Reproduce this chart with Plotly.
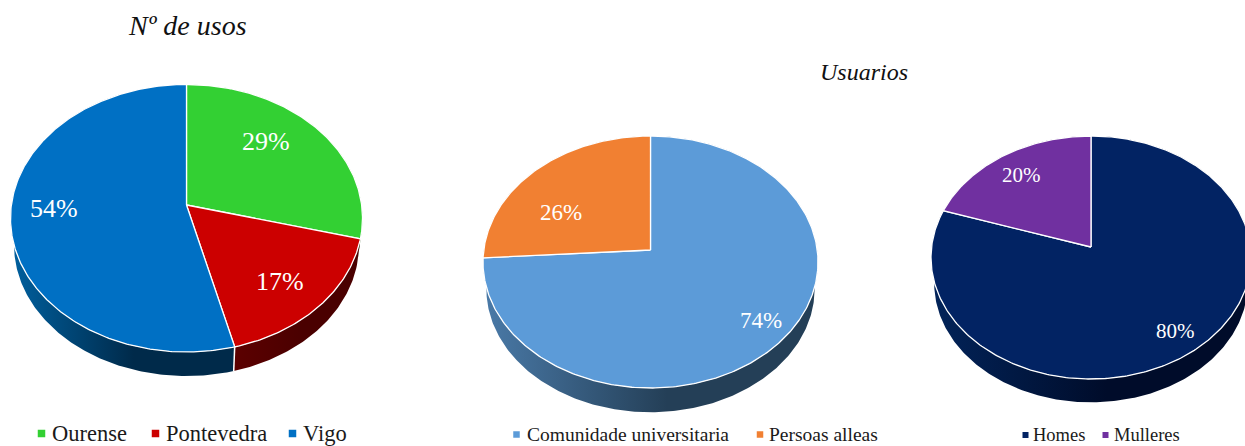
import numpy as np
import plotly.graph_objects as go

# ---- data ----
uses_labels = ["Ourense", "Pontevedra", "Vigo"]
uses_values = [29, 17, 54]
uses_colors = ["#33D033", "#CC0000", "#0070C4"]
uses_rims = [("#1c7a1c", "#145c14"), ("#5c0000", "#4a0000"), ("#00609f", "#002a4a")]

audience_labels = ["Comunidade universitaria", "Persoas alleas"]
audience_values = [74, 26]
audience_colors = ["#5C9BD8", "#F18032"]
audience_rims = [("#4a7aa8", "#243f57"), ("#8a4a1c", "#6a3814")]

gender_labels = ["Homes", "Mulleres"]
gender_values = [80, 20]
gender_colors = ["#022363", "#7030A0"]
gender_rims = [("#02245a", "#000c2a"), ("#3c1a58", "#2c1240")]

title_main = "Nº de usos"
title_users = "Usuarios"

# ---- layout geometry (pixels of the 1245x446 page) ----
FONT = "Liberation Serif"
pies = [
    dict(vals=uses_values, cols=uses_colors, rims=uses_rims, names=uses_labels,
         ax=186.5, ay=205, rx=176, back=120.5, front=147, depth=27, scale=0.98,
         lab=[(265.5, 141), (279.5, 281), (54, 208)], lab_size=26,
         leg_y=433.5, leg_font=22.5, leg_mark=7.5,
         leg=[(41.5, 50), (155.5, 164), (292.5, 301)]),
    dict(vals=audience_values, cols=audience_colors, rims=audience_rims, names=audience_labels,
         ax=650.5, ay=250, rx=167.5, back=114, front=138, depth=27, scale=0.98,
         lab=[(761, 320), (561, 212)], lab_size=23,
         leg_y=434.5, leg_font=19.5, leg_mark=6.5,
         leg=[(516.5, 525), (760, 767)]),
    dict(vals=gender_values, cols=gender_colors, rims=gender_rims, names=gender_labels,
         ax=1091, ay=247, rx=160, back=111, front=132, depth=26, scale=0.98,
         lab=[(1175, 331), (1021, 175)], lab_size=21,
         leg_y=435, leg_font=18.5, leg_mark=6,
         leg=[(1025.5, 1031), (1105.5, 1112)]),
]


def projector(p, scale=1.0, dy=0.0):
    k = (p["front"] - p["back"]) / (p["front"] + p["back"])
    b = p["back"] * (1 + k)
    a = p["rx"] * np.sqrt(1 - k * k)

    def proj(theta):
        u, v = np.sin(theta), np.cos(theta)
        w = 1 + k * v
        return p["ax"] + scale * a * u / w, p["ay"] + dy - scale * b * v / w

    return proj


fig = go.Figure()
annotations = []

for p in pies:
    top = projector(p)
    bottom = projector(p, p["scale"], p["depth"])
    total = sum(p["vals"])
    edges = 2 * np.pi * np.cumsum([0] + p["vals"]) / total
    arcs = [np.linspace(s, e, max(int((e - s) * 80), 4)) for s, e in zip(edges[:-1], edges[1:])]

    # side wall, drawn first so the top faces cover its hidden part
    for name, t, (c0, c1) in zip(p["names"], arcs, p["rims"]):
        xt, yt = top(t)
        xb, yb = bottom(t)
        fig.add_trace(go.Scatter(
            x=np.r_[xt, xb[::-1], xt[0]], y=np.r_[yt, yb[::-1], yt[0]],
            mode="lines", line=dict(width=0), fill="toself",
            fillgradient=dict(type="horizontal", colorscale=[[0, c0], [0.55, c1], [1, c1]]),
            hoverinfo="skip", showlegend=False))
    for e in edges[1:-1]:
        if np.cos(e) < -0.5:
            xt, yt = top(np.array([e]))
            xb, yb = bottom(np.array([e]))
            fig.add_trace(go.Scatter(
                x=[xt[0], xb[0]], y=[yt[0], yb[0]], mode="lines",
                line=dict(color="white", width=1.5), hoverinfo="skip", showlegend=False))

    # top faces
    for name, t, col in zip(p["names"], arcs, p["cols"]):
        x, y = top(t)
        fig.add_trace(go.Scatter(
            x=np.r_[p["ax"], x, p["ax"]], y=np.r_[p["ay"], y, p["ay"]],
            mode="lines", line=dict(color="white", width=1.3), fill="toself",
            fillcolor=col, name=name, hoverinfo="skip", showlegend=False))

    # percent labels
    for v, (lx, ly) in zip(p["vals"], p["lab"]):
        annotations.append(dict(x=lx, y=ly, text=f"{v}%", showarrow=False,
                                font=dict(family=FONT, size=p["lab_size"], color="white")))

    # legend rows
    for name, col, (mx, tx) in zip(p["names"], p["cols"], p["leg"]):
        fig.add_trace(go.Scatter(
            x=[mx], y=[p["leg_y"]], mode="markers",
            marker=dict(symbol="square", size=p["leg_mark"], color=col, line=dict(width=0)),
            hoverinfo="skip", showlegend=False))
        annotations.append(dict(x=tx, y=p["leg_y"], text=name, showarrow=False, xanchor="left",
                                font=dict(family=FONT, size=p["leg_font"], color="#1a1a1a")))

annotations.append(dict(x=187.5, y=25, text=f"<i>{title_main}</i>", showarrow=False,
                        font=dict(family=FONT, size=28, color="#111111")))
annotations.append(dict(x=864, y=72, text=f"<i>{title_users}</i>", showarrow=False,
                        font=dict(family=FONT, size=24, color="#111111")))

fig.update_layout(
    width=1245, height=446, margin=dict(l=0, r=0, t=0, b=0),
    paper_bgcolor="white", plot_bgcolor="white", showlegend=False,
    xaxis=dict(range=[0, 1245], visible=False, fixedrange=True),
    yaxis=dict(range=[446, 0], visible=False, fixedrange=True),
    annotations=annotations,
)
fig.write_html("out.html", config={"displayModeBar": False},
               post_script="document.body.style.margin='0';")
